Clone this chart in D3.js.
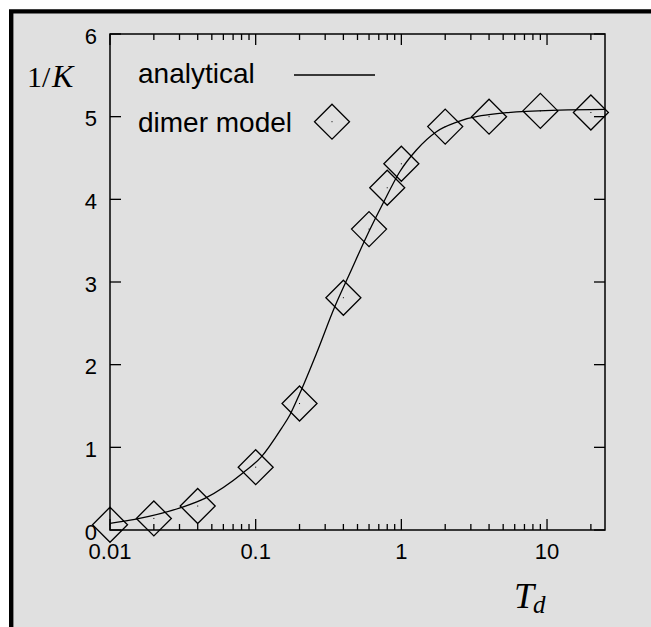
<!DOCTYPE html>
<html>
<head>
<meta charset="utf-8">
<script src="https://cdn.jsdelivr.net/npm/d3@7"></script>
<style>
  html, body { margin: 0; padding: 0; background: #ffffff; overflow: hidden; width: 651px; height: 627px; }
  svg { display: block; }
</style>
</head>
<body>
<svg id="chart" width="651" height="627"></svg>
<script>
// Dimer model results: temperature T_d and the computed 1/K
const dimerT = [0.01, 0.02, 0.04, 0.1, 0.2, 0.4, 0.6, 0.8, 1, 2, 4, 9, 20];
const dimerValues = [0.064, 0.14, 0.29, 0.76, 1.53, 2.81, 3.64, 4.14, 4.43, 4.88, 5.00, 5.07, 5.05];

// Analytical curve, sampled along T_d
const analyticT = [0.01, 0.0148, 0.031, 0.0448, 0.0821, 0.1097, 0.1505, 0.1716, 0.201, 0.2616,
                   0.349, 0.443, 0.576, 0.749, 0.975, 1.269, 1.741, 2.449, 5.26, 12.2, 25];
const analyticValues = [0.081, 0.129, 0.274, 0.383, 0.693, 0.887, 1.23, 1.391, 1.653, 2.137,
                        2.70, 3.105, 3.548, 3.952, 4.334, 4.597, 4.818, 4.939, 5.048, 5.08, 5.089];

// Axis ticks
const xMajorTicks = [0.01, 0.1, 1, 10];
const xTickLabels = ["0.01", "0.1", "1", "10"];
const yTicks = [0, 1, 2, 3, 4, 5, 6];
const yTickLabels = ["0", "1", "2", "3", "4", "5", "6"];
const legendLabels = ["analytical", "dimer model"];

const svg = d3.select("#chart");
const W = 651, H = 627;
const plot = { left: 110, right: 605, top: 34, bottom: 530 };

const x = d3.scaleLog().domain([0.01, 25]).range([plot.left, plot.right]);
const y = d3.scaleLinear().domain([0, 6]).range([plot.bottom, plot.top]);

// Page background with the heavy rule along the top and left
svg.append("rect").attr("x", 11).attr("y", 11).attr("width", W - 11).attr("height", H - 11)
  .attr("fill", "#e0e0e0");
svg.append("path").attr("d", `M11.2,${H} L11.2,11.4 L${W},11.4`)
  .attr("fill", "none").attr("stroke", "#000").attr("stroke-width", 4.4);

const tickFont = "'Liberation Sans', Arial, sans-serif";

// Minor x ticks: 2..9 within each decade
const xMinor = [];
[0.01, 0.1, 1, 10].forEach(d => {
  for (let k = 2; k <= 9; k++) {
    const v = d * k;
    if (v <= 25) xMinor.push(v);
  }
});

const ticks = svg.append("g").attr("stroke", "#000").attr("stroke-width", 1.3);
// bottom and top x ticks, pointing inward
xMajorTicks.forEach(v => {
  ticks.append("line").attr("x1", x(v)).attr("x2", x(v)).attr("y1", plot.bottom).attr("y2", plot.bottom - 11);
  ticks.append("line").attr("x1", x(v)).attr("x2", x(v)).attr("y1", plot.top).attr("y2", plot.top + 11);
});
xMinor.forEach(v => {
  ticks.append("line").attr("x1", x(v)).attr("x2", x(v)).attr("y1", plot.bottom).attr("y2", plot.bottom - 6);
  ticks.append("line").attr("x1", x(v)).attr("x2", x(v)).attr("y1", plot.top).attr("y2", plot.top + 6);
});
// left and right y ticks, pointing inward
yTicks.forEach(v => {
  ticks.append("line").attr("x1", plot.left).attr("x2", plot.left + 11).attr("y1", y(v)).attr("y2", y(v));
  ticks.append("line").attr("x1", plot.right).attr("x2", plot.right - 11).attr("y1", y(v)).attr("y2", y(v));
});

// Plot frame
svg.append("rect")
  .attr("x", plot.left).attr("y", plot.top)
  .attr("width", plot.right - plot.left).attr("height", plot.bottom - plot.top)
  .attr("fill", "none").attr("stroke", "#000").attr("stroke-width", 1.5);

// Tick labels
svg.append("g").selectAll("text").data(xMajorTicks).join("text")
  .attr("x", d => x(d)).attr("y", plot.bottom + 28.5)
  .attr("text-anchor", "middle")
  .attr("font-family", tickFont).attr("font-size", 22).attr("fill", "#000")
  .text((d, i) => xTickLabels[i]);

svg.append("g").selectAll("text").data(yTicks).join("text")
  .attr("x", plot.left - 13).attr("y", d => y(d) + 9.5)
  .attr("text-anchor", "end")
  .attr("font-family", tickFont).attr("font-size", 22).attr("fill", "#000")
  .text((d, i) => yTickLabels[i]);

// Axis titles
const serif = "'Liberation Serif', 'Times New Roman', serif";
const yTitle = svg.append("text")
  .attr("y", 87).attr("font-family", serif).attr("fill", "#000");
yTitle.append("tspan").attr("x", 27).attr("font-size", 30).text("1");
yTitle.append("tspan").attr("x", 42).attr("font-size", 30).text("/");
yTitle.append("tspan").attr("x", 52).attr("font-size", 32).attr("font-style", "italic").text("K");

const xTitle = svg.append("text")
  .attr("x", 514).attr("y", 608)
  .attr("font-family", serif)
  .attr("fill", "#000");
xTitle.append("tspan").attr("font-size", 36).attr("font-style", "italic").text("T");
xTitle.append("tspan").attr("font-size", 25).attr("font-style", "italic").attr("dy", 5).attr("dx", -1).text("d");

// Analytical curve
const line = d3.line()
  .x((d, i) => x(analyticT[i]))
  .y(d => y(d))
  .curve(d3.curveMonotoneX);
svg.append("path")
  .attr("d", line(analyticValues))
  .attr("fill", "none").attr("stroke", "#000").attr("stroke-width", 1.3);

// Dimer model points: open diamonds with a tiny centre dot
const R = 17.5;
const diamond = (cx, cy) => `M${cx},${cy - R} L${cx + R},${cy} L${cx},${cy + R} L${cx - R},${cy} Z`;
const pts = svg.append("g");
dimerValues.forEach((v, i) => {
  const cx = x(dimerT[i]), cy = y(v);
  pts.append("path").attr("d", diamond(cx, cy))
    .attr("fill", "none").attr("stroke", "#000").attr("stroke-width", 1.3);
  pts.append("rect").attr("x", cx - 0.5).attr("y", cy - 0.5).attr("width", 1).attr("height", 1).attr("fill", "#000");
});

// Legend
const legendFont = "'Liberation Sans', Arial, sans-serif";
svg.append("text").attr("x", 138).attr("y", 83.3)
  .attr("font-family", legendFont).attr("font-size", 28).attr("fill", "#000")
  .text(legendLabels[0]);
svg.append("line").attr("x1", 294).attr("x2", 375).attr("y1", 75).attr("y2", 75)
  .attr("stroke", "#000").attr("stroke-width", 1.3);
svg.append("text").attr("x", 138).attr("y", 132.3)
  .attr("font-family", legendFont).attr("font-size", 28).attr("fill", "#000")
  .text(legendLabels[1]);
svg.append("path").attr("d", diamond(332, 121.7))
  .attr("fill", "none").attr("stroke", "#000").attr("stroke-width", 1.3);
svg.append("rect").attr("x", 331.5).attr("y", 121.2).attr("width", 1).attr("height", 1).attr("fill", "#000");
</script>
</body>
</html>
